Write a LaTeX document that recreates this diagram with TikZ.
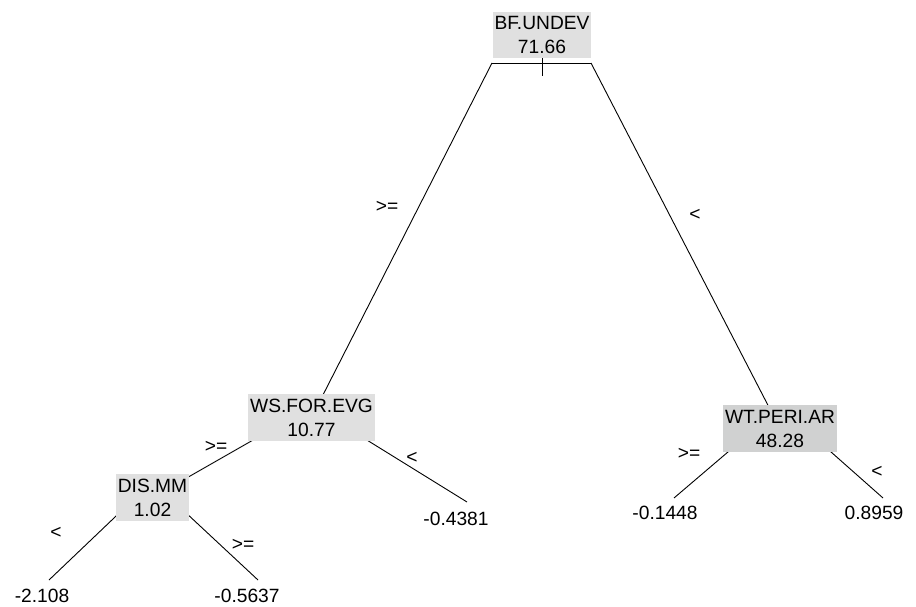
\documentclass[tikz,border=0pt]{standalone}
\usepackage{fontspec}
\setmainfont{Liberation Sans}
\usetikzlibrary{backgrounds}
\definecolor{lightbox}{RGB}{224,224,224}
\definecolor{darkbox}{RGB}{208,209,209}
\begin{document}
\begin{tikzpicture}[x=1pt,y=-1pt,inner sep=0pt,font=\fontsize{19.2}{24}\selectfont]
  \tikzstyle{v}=[fill=lightbox,align=center,inner xsep=2pt,inner ysep=4.5pt]
  \useasboundingbox(0,0)rectangle(916,607);
  % split nodes
  \node[v](bfundev)at(542,35){BF.UNDEV\\71.66};
  \node[v](wsforevg)at(311.5,417.5){WS.FOR.EVG\\10.77};
  \node[v,fill=darkbox](wtperiar)at(780,428.5){WT.PERI.AR\\48.28};
  \node[v](dismm)at(152.5,497.5){DIS.MM\\1.02};
  % leaves
  \node(l2108)at(42,596){-2.108};
  \node(l5637)at(247,596){-0.5637};
  \node(l4381)at(456,519){-0.4381};
  \node(l1448)at(665,513){-0.1448};
  \node(l8959)at(874,513){0.8959};
  % split labels
  \node(s1)at(387,207){>=};
  \node(s2)at(695,215){<};
  \node(s3)at(216,447){>=};
  \node(s4)at(412,458){<};
  \node(s5)at(56,533){<};
  \node(s6)at(243,545){>=};
  \node(s7)at(689,454){>=};
  \node(s8)at(877,472){<};
  % ends of the branches
  \coordinate(bfl)at(492,63);\coordinate(bfr)at(591,63);
  \coordinate(wsl)at(292.5,417.5);\coordinate(wsr)at(330.5,417.5);
  \coordinate(wtl)at(755.5,428.5);\coordinate(wtr)at(804.5,428.5);
  \coordinate(disl)at(135.5,497.5);\coordinate(disr)at(169.5,497.5);
  \coordinate(e2108)at(49,580);\coordinate(e5637)at(258,580);
  \coordinate(e4381)at(467,502);\coordinate(e1448)at(674,498);
  \coordinate(e8959)at(883,498);
  \begin{scope}[on background layer]
    \tikzstyle{e}=[draw=black,line width=0.9pt]
    \draw[e](bfl)--(bfr);
    \draw[e](bfundev.south)--++(0,18);
    \foreach\o/\d in{bfl/wsforevg,bfr/wtperiar,wsl/dismm,wsr/e4381,wtl/e1448,wtr/e8959,disl/e2108,disr/e5637}{\draw[e](\o)--(\d.center);}
  \end{scope}
\end{tikzpicture}
\end{document}
